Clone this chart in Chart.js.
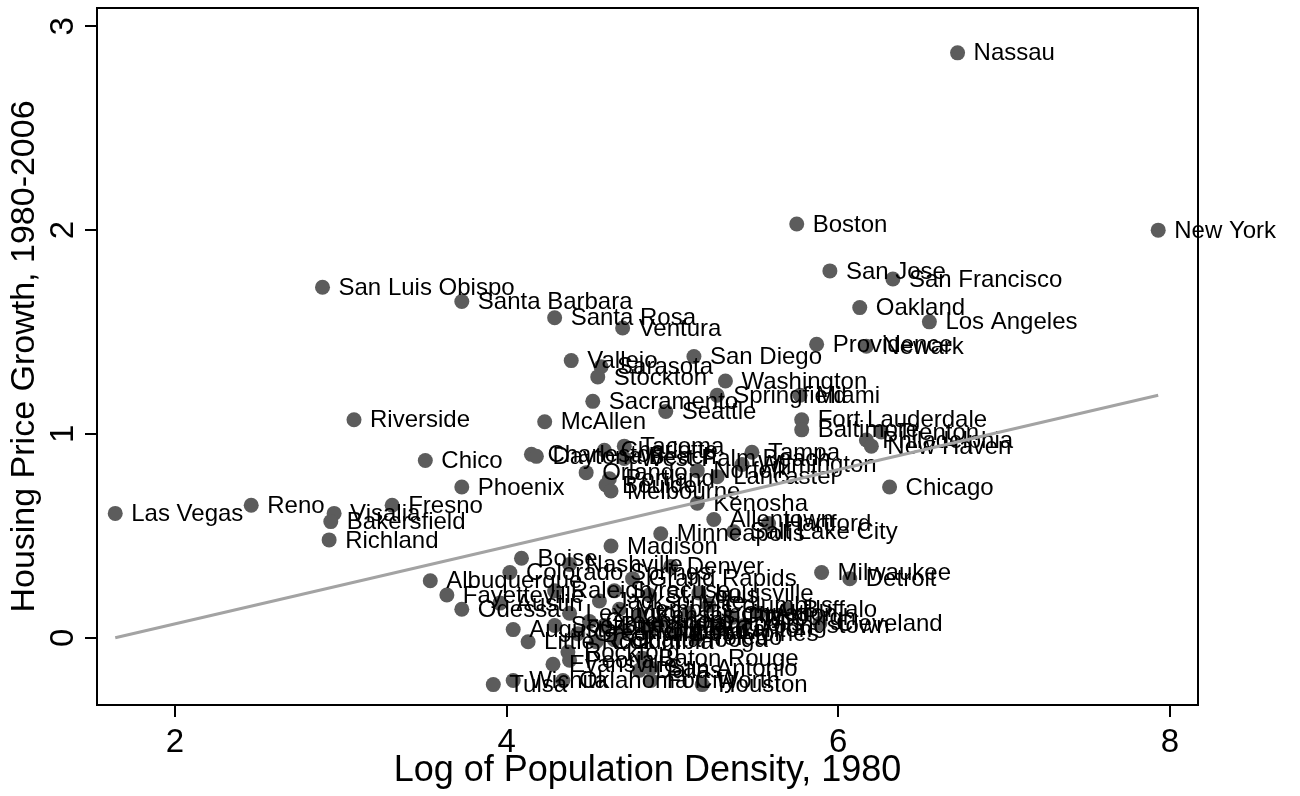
<!DOCTYPE html>
<html>
<head>
<meta charset="utf-8">
<script src="https://cdn.jsdelivr.net/npm/chart.js@4/dist/chart.umd.min.js"></script>
<style>
  html, body { margin: 0; padding: 0; background: #ffffff; }
  #wrap { width: 1300px; height: 796px; position: relative; }
</style>
</head>
<body>
<div id="wrap"><canvas id="c"></canvas></div>
<script>
const cities = [
  "Nassau","New York","Boston","San Jose","San Francisco","Oakland","Los Angeles","Providence","Newark",
  "San Luis Obispo","Santa Barbara","Santa Rosa","Ventura","Vallejo","Sarasota","Stockton","San Diego",
  "Washington","Springfield","Miami","Sacramento","Seattle","McAllen","Riverside","Fort Lauderdale",
  "Baltimore","Trenton","Philadelphia","New Haven","Chicago","Chico","Phoenix","Las Vegas","Reno",
  "Fresno","Visalia","Bakersfield","Richland",
  "Charleston","Daytona Beach","Charlotte","Tacoma","West Palm Beach","Tampa","Wilmington","Norfolk",
  "Lancaster","Orlando","Portland","Boulder","Melbourne","Kenosha","Allentown","Salt Lake City",
  "Hartford","Minneapolis","Madison","Milwaukee","Detroit",
  "Boise","Nashville","Denver","Colorado Springs","Albuquerque","Grand Rapids","Fayetteville","Raleigh",
  "Odessa","Austin","Syracuse","St. Louis","Louisville","Lexington","Buffalo","Pittsburgh","Cleveland",
  "Toledo","Augusta","Little Rock","Rockford","Evansville","Baton Rouge","San Antonio","Wichita","Tulsa",
  "Oklahoma City","Fort Worth","Houston","Dallas","Jacksonville","Memphis","Kansas City","Cincinnati",
  "Indianapolis","Columbus","Akron","Birmingham","Richmond","Greensboro","Omaha","Youngstown","Canton",
  "Des Moines","Greenville","Columbia","Chattanooga","Peoria","Spokane"
];
const logDensity = [
  6.72,7.93,5.75,5.95,6.33,6.13,6.55,5.87,6.17,
  2.89,3.73,4.29,4.70,4.39,4.57,4.55,5.13,
  5.32,5.27,5.77,4.52,4.96,4.23,3.08,5.78,
  5.78,6.26,6.17,6.20,6.31,3.51,3.73,1.64,2.46,
  3.31,2.96,2.94,2.93,
  4.15,4.18,4.59,4.71,4.71,5.48,5.42,5.15,
  5.27,4.48,4.62,4.60,4.63,5.15,5.25,5.37,
  5.58,4.93,4.63,5.90,6.07,
  4.09,4.38,4.99,4.02,3.54,4.76,3.64,4.29,
  3.73,3.96,4.65,4.86,5.16,4.38,5.69,5.36,5.89,
  5.14,4.04,4.13,4.37,4.28,4.82,4.87,4.04,3.92,
  4.34,4.87,5.18,4.80,4.56,4.68,4.80,5.10,
  4.92,5.22,5.52,4.59,4.71,4.50,4.86,5.43,5.28,
  5.02,4.43,4.54,4.65,4.38,4.29
];
const priceGrowth = [
  2.87,2.00,2.03,1.80,1.76,1.62,1.55,1.44,1.43,
  1.72,1.65,1.57,1.52,1.36,1.33,1.28,1.38,
  1.26,1.19,1.19,1.16,1.11,1.06,1.07,1.07,
  1.02,1.01,0.97,0.94,0.74,0.87,0.74,0.61,0.65,
  0.65,0.61,0.57,0.48,
  0.90,0.89,0.92,0.94,0.88,0.91,0.85,0.82,
  0.79,0.81,0.78,0.75,0.72,0.66,0.58,0.52,
  0.56,0.51,0.45,0.32,0.29,
  0.39,0.36,0.35,0.32,0.28,0.29,0.21,0.23,
  0.14,0.17,0.23,0.21,0.22,0.12,0.14,0.10,0.07,
  0.00,0.04,-0.02,-0.07,-0.13,-0.10,-0.15,-0.21,-0.23,
  -0.21,-0.21,-0.23,-0.16,0.18,0.14,0.11,0.12,
  0.07,0.16,0.12,0.06,0.03,0.08,0.03,0.06,0.04,
  0.02,0.02,-0.02,-0.01,-0.11,0.06
];
const fitX = [1.64, 7.93];
const fitY = [0.00, 1.19];
const xTicks = [2, 4, 6, 8];
const yTicks = [0, 1, 2, 3];

const FONT = "'Liberation Sans', Arial, Helvetica, sans-serif";

const scatterData = logDensity.map((x, i) => ({ x: x, y: priceGrowth[i] }));
const fitData = fitX.map((x, i) => ({ x: x, y: fitY[i] }));

const labelPlugin = {
  id: 'pointLabels',
  afterDatasetDraw(chart, args) {
    if (args.index !== 1) return;
    const ctx = chart.ctx;
    const meta = args.meta;
    ctx.save();
    ctx.font = "24px " + FONT;
    ctx.fillStyle = '#000000';
    ctx.textAlign = 'left';
    ctx.textBaseline = 'middle';
    meta.data.forEach((pt, i) => {
      ctx.fillText(cities[i], pt.x + 16, pt.y + 1);
    });
    ctx.restore();
  }
};

const framePlugin = {
  id: 'frame',
  afterDraw(chart) {
    const { ctx, chartArea: a, scales } = chart;
    ctx.save();
    ctx.strokeStyle = '#000000';
    ctx.lineWidth = 2;
    ctx.strokeRect(a.left, a.top, a.right - a.left, a.bottom - a.top);
    ctx.font = "33px " + FONT;
    ctx.fillStyle = '#000000';
    ctx.textAlign = 'center';
    ctx.textBaseline = 'alphabetic';
    yTicks.forEach(v => {
      const py = scales.y.getPixelForValue(v);
      ctx.save();
      ctx.translate(73, py);
      ctx.rotate(-Math.PI / 2);
      ctx.fillText(String(v), 0, 0);
      ctx.restore();
    });
    ctx.restore();
  }
};

new Chart(document.getElementById('c'), {
  type: 'scatter',
  data: {
    datasets: [
      {
        type: 'line',
        data: fitData,
        borderColor: '#a3a3a3',
        borderWidth: 3,
        pointRadius: 0,
        fill: false,
        tension: 0
      },
      {
        data: scatterData,
        backgroundColor: '#5c5c5c',
        borderWidth: 0,
        pointRadius: 7.5,
        pointHoverRadius: 7.5
      }
    ]
  },
  options: {
    responsive: true,
    maintainAspectRatio: false,
    animation: false,
    events: [],
    layout: { padding: { top: 8, right: 102, left: 0, bottom: 0 } },
    plugins: { legend: { display: false }, tooltip: { enabled: false }, title: { display: false } },
    scales: {
      x: {
        type: 'linear',
        min: 1.53,
        max: 8.17,
        afterBuildTicks: s => { s.ticks = xTicks.map(v => ({ value: v })); },
        afterFit: s => { s.height = 91; },
        grid: { display: true, drawOnChartArea: false, drawTicks: true, tickLength: 12, color: '#000000', lineWidth: 2 },
        border: { display: true, color: '#000000', width: 2 },
        ticks: { color: '#000000', font: { family: FONT, size: 33 }, padding: 6, maxRotation: 0, minRotation: 0 },
        title: { display: true, text: 'Log of Population Density, 1980', color: '#000000', font: { family: FONT, size: 36, lineHeight: 1.2 }, padding: { top: 0, bottom: 3 } }
      },
      y: {
        type: 'linear',
        min: -0.33,
        max: 3.09,
        afterBuildTicks: s => { s.ticks = yTicks.map(v => ({ value: v })); },
        afterFit: s => { s.width = 97; },
        grid: { display: true, drawOnChartArea: false, drawTicks: true, tickLength: 12, color: '#000000', lineWidth: 2 },
        border: { display: true, color: '#000000', width: 2 },
        ticks: { display: false },
        title: { display: true, text: 'Housing Price Growth, 1980-2006', color: '#000000', font: { family: FONT, size: 34, lineHeight: 1.2 }, padding: { top: 4, bottom: 0 } }
      }
    }
  },
  plugins: [labelPlugin, framePlugin]
});
</script>
</body>
</html>
